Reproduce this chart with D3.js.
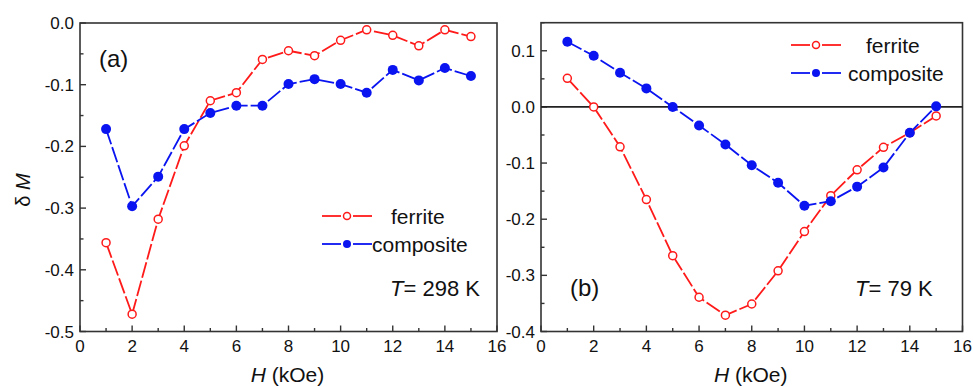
<!DOCTYPE html>
<html>
<head>
<meta charset="utf-8">
<script src="https://cdn.jsdelivr.net/npm/d3@7"></script>
<style>
  body { margin: 0; background: #fff; }
  text { font-family: "Liberation Sans", Arial, sans-serif; fill: #111; }
</style>
</head>
<body>
<svg id="chart" width="973" height="387"></svg>
<script>
// field values (kOe)
const fields = [1, 2, 3, 4, 5, 6, 7, 8, 9, 10, 11, 12, 13, 14, 15];

// panel (a), T = 298 K
const ferriteA = [-0.356, -0.472, -0.318, -0.199, -0.126, -0.113, -0.059, -0.045, -0.053, -0.028, -0.011, -0.020, -0.037, -0.011, -0.022];
const compositeA = [-0.172, -0.297, -0.249, -0.172, -0.146, -0.134, -0.134, -0.099, -0.091, -0.099, -0.113, -0.076, -0.093, -0.073, -0.086];

// panel (b), T = 79 K
const ferriteB = [0.051, 0.000, -0.071, -0.165, -0.265, -0.339, -0.371, -0.351, -0.292, -0.222, -0.158, -0.112, -0.072, -0.046, -0.016];
const compositeB = [0.116, 0.091, 0.061, 0.033, 0.000, -0.033, -0.067, -0.104, -0.135, -0.176, -0.168, -0.142, -0.108, -0.046, 0.001];

const xTicks = [0, 2, 4, 6, 8, 10, 12, 14, 16];
const yTicksA = [0.0, -0.1, -0.2, -0.3, -0.4, -0.5];
const yTicksB = [0.1, 0.0, -0.1, -0.2, -0.3, -0.4];

const svg = d3.select("#chart");
const RED = "#ff1a1a", BLUE = "#0a14f0";

function drawPanel(opt) {
    const x = d3.scaleLinear().domain([0, 16]).range([opt.left, opt.right]);
    const y = d3.scaleLinear().domain(opt.yDomain).range([opt.bottom, opt.top]);
    const g = svg.append("g");

    // frame
    g.append("rect")
        .attr("x", opt.left).attr("y", opt.top)
        .attr("width", opt.right - opt.left).attr("height", opt.bottom - opt.top)
        .attr("fill", "none").attr("stroke", "#333").attr("stroke-width", 1.6);

    // x ticks (inward), minor at odd values
    d3.range(0, 17).forEach(v => {
        const major = v % 2 === 0;
        g.append("line")
            .attr("x1", x(v)).attr("x2", x(v))
            .attr("y1", opt.bottom).attr("y2", opt.bottom - (major ? 6 : 3.5))
            .attr("stroke", "#333").attr("stroke-width", 1.4);
    });
    xTicks.forEach(v => {
        g.append("text")
            .attr("x", x(v)).attr("y", opt.bottom + 20)
            .attr("text-anchor", "middle")
            .style("font-size", "17px")
            .text(v);
    });

    // y ticks (inward), minor at half steps
    const [y0, y1] = opt.yDomain;
    for (let k = Math.round(y0 * 20); k <= Math.round(y1 * 20); k++) {
        const v = k / 20;
        const major = k % 2 === 0;
        g.append("line")
            .attr("x1", opt.left).attr("x2", opt.left + (major ? 6 : 3.5))
            .attr("y1", y(v)).attr("y2", y(v))
            .attr("stroke", "#333").attr("stroke-width", 1.4);
    }
    opt.yTicks.forEach(v => {
        g.append("text")
            .attr("x", opt.left - 6).attr("y", y(v) + 6)
            .attr("text-anchor", "end")
            .style("font-size", "17px")
            .text(v.toFixed(1));
    });

    if (opt.zeroLine) {
        g.append("line")
            .attr("x1", opt.left).attr("x2", opt.right)
            .attr("y1", y(0)).attr("y2", y(0))
            .attr("stroke", "#222").attr("stroke-width", 1.6);
    }

    const line = d3.line().x((d, i) => x(fields[i])).y(d => y(d));

    // ferrite
    g.append("path").datum(opt.ferrite)
        .attr("d", line).attr("fill", "none")
        .attr("stroke", RED).attr("stroke-width", 1.8)
        .attr("stroke-dasharray", "16,3");
    g.selectAll(".fpt").data(opt.ferrite).join("circle")
        .attr("cx", (d, i) => x(fields[i])).attr("cy", d => y(d))
        .attr("r", 4).attr("fill", "#fff")
        .attr("stroke", RED).attr("stroke-width", 1.5);

    // composite
    g.append("path").datum(opt.composite)
        .attr("d", line).attr("fill", "none")
        .attr("stroke", BLUE).attr("stroke-width", 1.8)
        .attr("stroke-dasharray", "16,3");
    g.selectAll(".cpt").data(opt.composite).join("circle")
        .attr("cx", (d, i) => x(fields[i])).attr("cy", d => y(d))
        .attr("r", 5).attr("fill", BLUE);

    // legend
    const lg = opt.legend;
    [[RED, true, "ferrite", lg.fText, lg.y1], [BLUE, false, "composite", lg.cText, lg.y2]].forEach(([c, open, label, tx, ly]) => {
        g.append("line").attr("x1", lg.x).attr("x2", lg.x + 19).attr("y1", ly).attr("y2", ly)
            .attr("stroke", c).attr("stroke-width", 1.8);
        g.append("line").attr("x1", lg.x + 31).attr("x2", lg.x + 50).attr("y1", ly).attr("y2", ly)
            .attr("stroke", c).attr("stroke-width", 1.8);
        g.append("circle").attr("cx", lg.x + 25).attr("cy", ly)
            .attr("r", open ? 3.5 : 4)
            .attr("fill", open ? "#fff" : c)
            .attr("stroke", open ? c : "none").attr("stroke-width", 1.5);
        g.append("text").attr("x", tx).attr("y", ly + 7.5)
            .style("font-size", "21px").text(label);
    });

    // panel label
    g.append("text").attr("x", opt.tag[0]).attr("y", opt.tag[1])
        .style("font-size", "24px").text(opt.tagText);

    // temperature
    const t = g.append("text").attr("x", opt.temp[0]).attr("y", opt.temp[1])
        .style("font-size", "22px");
    t.append("tspan").style("font-style", "italic").text("T");
    t.append("tspan").text(opt.tempText);

    // x title
    const xt = g.append("text").attr("x", (opt.left + opt.right) / 2 - 1).attr("y", 382)
        .attr("text-anchor", "middle").style("font-size", "21px");
    xt.append("tspan").style("font-style", "italic").text("H");
    xt.append("tspan").text(" (kOe)");
}

drawPanel({
    left: 80, right: 497, top: 23, bottom: 331.5,
    yDomain: [-0.5, 0.0], yTicks: yTicksA,
    ferrite: ferriteA, composite: compositeA,
    legend: { x: 322, y1: 216, y2: 244, fText: 391, cText: 372 },
    tag: [99, 67], tagText: "(a)",
    temp: [390, 296], tempText: "= 298 K",
    zeroLine: false
});

drawPanel({
    left: 541, right: 962.5, top: 22.7, bottom: 331.5,
    yDomain: [-0.4, 0.15], yTicks: yTicksB,
    ferrite: ferriteB, composite: compositeB,
    legend: { x: 791, y1: 45, y2: 73, fText: 866, cText: 848 },
    tag: [570, 296], tagText: "(b)",
    temp: [855, 296], tempText: "= 79 K",
    zeroLine: true
});

// y axis title
const yt = svg.append("text")
    .attr("transform", "translate(30,190) rotate(-90)")
    .attr("text-anchor", "middle")
    .style("font-size", "20px");
yt.append("tspan").text("δ ");
yt.append("tspan").style("font-style", "italic").text("M");
</script>
</body>
</html>
